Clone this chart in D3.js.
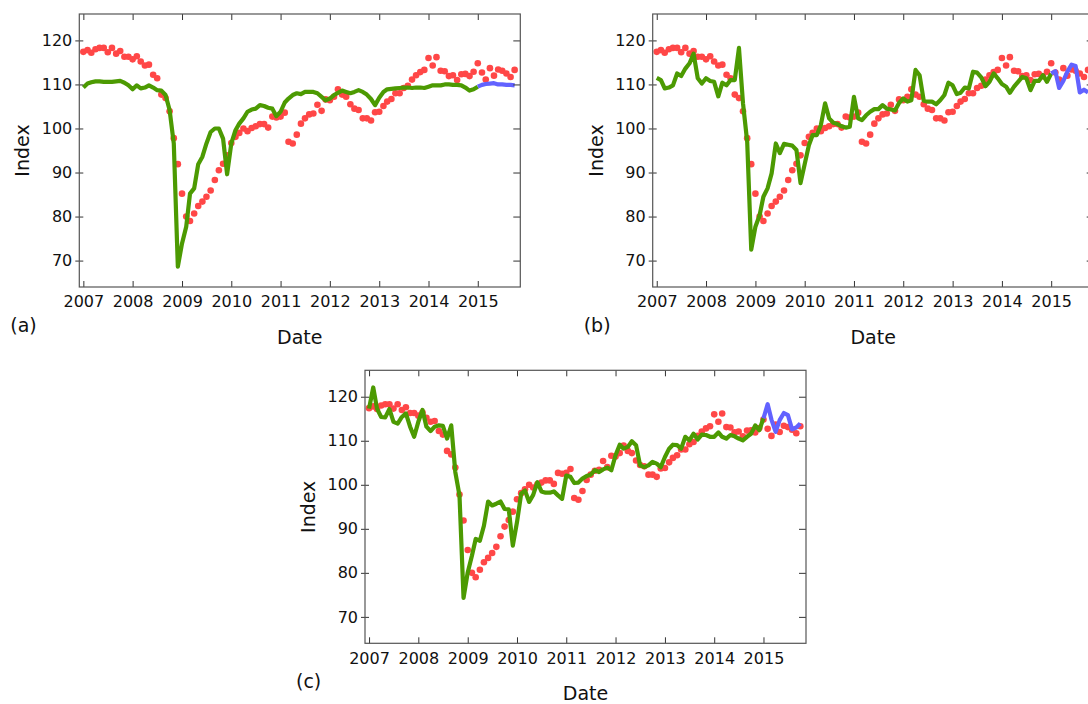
<!DOCTYPE html>
<html>
<head>
<meta charset="utf-8">
<script src="https://cdn.jsdelivr.net/npm/d3@7"></script>
<style>
  body { margin: 0; background: #fff; }
  text { font-family: "DejaVu Sans", sans-serif; fill: #111; }
</style>
</head>
<body>
<svg id="chart" width="1088" height="704"></svg>
<script>
// monthly observations, Jan 2007 .. Oct 2015
const firstMonth = new Date(2007, 0, 1);
const endMonth = new Date(2015, 10, 1);
const yearTicks = [2007, 2008, 2009, 2010, 2011, 2012, 2013, 2014, 2015];
const indexTicks = [70, 80, 90, 100, 110, 120];

const actual = [
    117.4, 117.8, 117.2, 118.0, 118.3, 118.3, 117.3, 118.3, 117.0, 117.6, 116.3, 116.3,
    115.7, 116.4, 115.2, 114.3, 114.5, 112.2, 111.4, 107.7, 106.9, 103.9, 97.8, 91.9,
    85.2, 80.0, 79.0, 80.7, 82.4, 83.4, 84.5, 85.9, 88.3, 90.5, 92.0, 93.9,
    96.7, 98.1, 99.0, 100.0, 99.4, 100.1, 100.5, 101.0, 101.0, 100.2, 102.7, 102.5,
    102.7, 103.6, 97.0, 96.6, 98.6, 101.1, 102.3, 103.2, 103.4, 105.4, 104.0, 106.6,
    106.4, 107.2, 108.9, 107.7, 107.2, 105.5, 104.5, 104.2, 102.3, 102.3, 101.8, 103.7,
    103.8, 105.1, 106.1, 106.7, 108.0, 108.0, 109.2, 109.7, 111.1, 112.1, 112.8, 113.3,
    116.0, 114.3, 116.2, 113.1, 113.0, 111.9, 112.1, 111.0, 112.3, 112.4, 111.9, 112.9,
    114.8, 112.7, 111.1, 113.7, 112.0, 113.4, 113.1, 112.5, 111.7, 113.3
];

// fitted values Jan 2007 .. Jan 2015
const fitA = [
    109.3, 110.2, 110.5, 110.7, 110.7, 110.6, 110.6, 110.6, 110.7, 110.8, 110.4, 109.8,
    108.9, 109.8, 109.1, 109.3, 109.8, 109.3, 108.7, 108.6, 107.6, 104.2, 96.6, 68.6,
    73.9, 77.7, 85.2, 86.4, 91.9, 93.6, 96.6, 99.2, 100.0, 100.0, 97.7, 89.6,
    96.6, 99.6, 101.1, 102.3, 103.8, 104.3, 104.5, 105.3, 105.1, 104.7, 104.5, 102.8,
    103.8, 105.9, 106.8, 107.6, 108.0, 107.8, 108.3, 108.3, 108.3, 108.0, 107.2, 106.4,
    106.8, 107.6, 108.1, 108.6, 108.3, 108.0, 108.3, 108.7, 108.3, 107.7, 106.7, 105.3,
    107.0, 108.3, 108.9, 109.0, 109.1, 109.2, 109.3, 109.3, 109.2, 109.3, 109.3, 109.2,
    109.5, 109.8, 109.8, 109.8, 110.0, 110.0, 109.9, 109.9, 109.8, 109.3, 108.6, 108.9,
    109.5
];
const fitB = [
    111.5, 111.0, 109.1, 109.3, 109.8, 112.5, 111.9, 113.6, 114.8, 117.0, 111.4, 110.2,
    111.4, 110.8, 110.6, 107.3, 110.4, 109.8, 111.0, 111.0, 118.3, 105.7, 97.0, 72.5,
    77.7, 80.3, 84.5, 86.4, 89.8, 96.6, 94.4, 96.5, 96.3, 96.1, 95.1, 87.6,
    91.9, 96.2, 98.5, 98.5, 100.8, 105.7, 102.3, 101.3, 101.0, 100.5, 100.2, 100.4,
    107.2, 102.3, 101.9, 103.0, 103.8, 104.4, 104.4, 105.3, 104.5, 104.3, 104.1, 105.8,
    106.8, 106.1, 106.4, 113.3, 112.1, 106.3, 106.1, 106.1, 105.5, 106.4, 107.6, 110.4,
    109.8, 107.8, 108.1, 109.3, 109.1, 112.9, 112.7, 111.6, 109.6, 110.6, 112.5, 111.4,
    110.1, 109.5, 108.1, 109.5, 110.6, 111.7, 111.4, 108.7, 110.8, 110.8, 112.1, 110.6,
    112.5
];
const fitC = [
    117.3, 122.1, 117.3, 115.4, 115.3, 117.2, 114.3, 113.9, 115.4, 116.2, 113.2, 110.9,
    114.3, 117.0, 113.2, 112.2, 113.2, 113.5, 113.4, 110.5, 113.5, 102.9, 97.6, 74.3,
    80.1, 83.9, 87.7, 87.3, 90.7, 96.2, 95.3, 95.7, 96.2, 94.5, 94.4, 86.2,
    91.5, 98.0, 98.7, 96.1, 97.7, 100.6, 98.5, 98.2, 98.2, 98.5, 97.6, 96.8,
    102.1, 101.8, 100.4, 100.5, 101.4, 102.0, 102.3, 103.3, 102.9, 103.5, 103.9, 103.3,
    106.7, 109.1, 108.2, 108.6, 109.9, 109.0, 104.4, 104.0, 104.4, 105.2, 104.8, 104.0,
    106.3, 108.2, 109.1, 109.0, 108.2, 110.9, 110.1, 111.6, 110.3, 111.4, 111.3, 110.9,
    110.9, 111.9, 110.9, 110.5, 111.3, 111.0, 110.5, 110.1, 110.9, 111.6, 113.5, 112.4,
    115.1
];

// forecasts Jan 2015 .. Oct 2015
const forecastA = [109.5, 109.9, 110.1, 110.2, 110.3, 110.0, 110.0, 109.9, 109.9, 109.8];
const forecastB = [112.5, 113.0, 109.2, 110.8, 112.9, 114.5, 114.2, 108.2, 108.8, 108.2];
const forecastC = [115.1, 118.3, 114.8, 112.0, 114.7, 116.3, 115.8, 112.6, 113.0, 113.9];

const months = d3.timeMonth.range(firstMonth, endMonth);
const forecastStart = fitA.length - 1;

const plotW = 441, plotH = 273;
const panels = [
    { label: "(a)", left: 79.3, top: 14, fit: fitA, forecast: forecastA },
    { label: "(b)", left: 652.7, top: 14, fit: fitB, forecast: forecastB },
    { label: "(c)", left: 365, top: 370.3, fit: fitC, forecast: forecastC }
];

let svg = d3.select("#chart");

let x = d3.scaleTime()
    .domain([new Date(2006, 11, 2), new Date(2015, 10, 12)])
    .range([0, plotW]);
let y = d3.scaleLinear().domain([64, 126]).range([plotH, 0]);
let yearDates = yearTicks.map(yr => new Date(yr, 0, 1));

function drawPanel(p) {
    let g = svg.append("g").attr("transform", "translate(" + p.left + "," + p.top + ")");

    g.selectAll("circle.actual")
        .data(actual)
        .enter()
        .append("circle").attr("class", "actual")
        .attr("cx", (d, i) => x(months[i]))
        .attr("cy", d => y(d))
        .attr("r", 3.3)
        .attr("fill", "#ff4747");

    let line = d3.line().x(d => x(d[0])).y(d => y(d[1]));

    g.append("path")
        .datum(p.fit.map((v, i) => [months[i], v]))
        .attr("d", line)
        .attr("fill", "none")
        .attr("stroke", "#4c9a02")
        .attr("stroke-width", 4.2)
        .attr("stroke-linejoin", "round");

    g.append("path")
        .datum(p.forecast.map((v, i) => [months[forecastStart + i], v]))
        .attr("d", line)
        .attr("fill", "none")
        .attr("stroke", "#6262ff")
        .attr("stroke-width", 4.2)
        .attr("stroke-linejoin", "round");

    // frame + ticks on all sides
    let bottom = g.append("g").attr("transform", "translate(0," + plotH + ")")
        .call(d3.axisBottom(x).tickValues(yearDates).tickFormat(d3.timeFormat("%Y"))
            .tickSize(-6).tickPadding(9));
    g.append("g")
        .call(d3.axisTop(x).tickValues(yearDates).tickFormat("").tickSize(-6));
    let left = g.append("g")
        .call(d3.axisLeft(y).tickValues(indexTicks).tickSize(4).tickPadding(3));
    left.selectAll(".tick line").attr("x1", 4);
    g.append("g").attr("transform", "translate(" + plotW + ",0)")
        .call(d3.axisRight(y).tickValues(indexTicks).tickFormat("").tickSize(-7));

    g.selectAll(".domain").remove();
    g.selectAll(".tick line").attr("stroke", "#333");
    g.selectAll(".tick text").attr("font-size", 16).attr("fill", "#111")
        .style("font-family", '"DejaVu Sans", sans-serif');

    g.append("rect")
        .attr("width", plotW).attr("height", plotH)
        .attr("fill", "none").attr("stroke", "#555").attr("stroke-width", 1.2);

    g.append("text")
        .attr("transform", "translate(" + (-57) + "," + (plotH / 2) + ") rotate(-90)")
        .attr("text-anchor", "middle")
        .attr("dominant-baseline", "central")
        .attr("font-size", 19)
        .text("Index");

    g.append("text")
        .attr("x", plotW / 2).attr("y", plotH + 57)
        .attr("text-anchor", "middle")
        .attr("font-size", 19)
        .text("Date");

    g.append("text")
        .attr("x", -69).attr("y", plotH + 45)
        .attr("font-size", 19)
        .text(p.label);
}

panels.forEach(drawPanel);
</script>
</body>
</html>
